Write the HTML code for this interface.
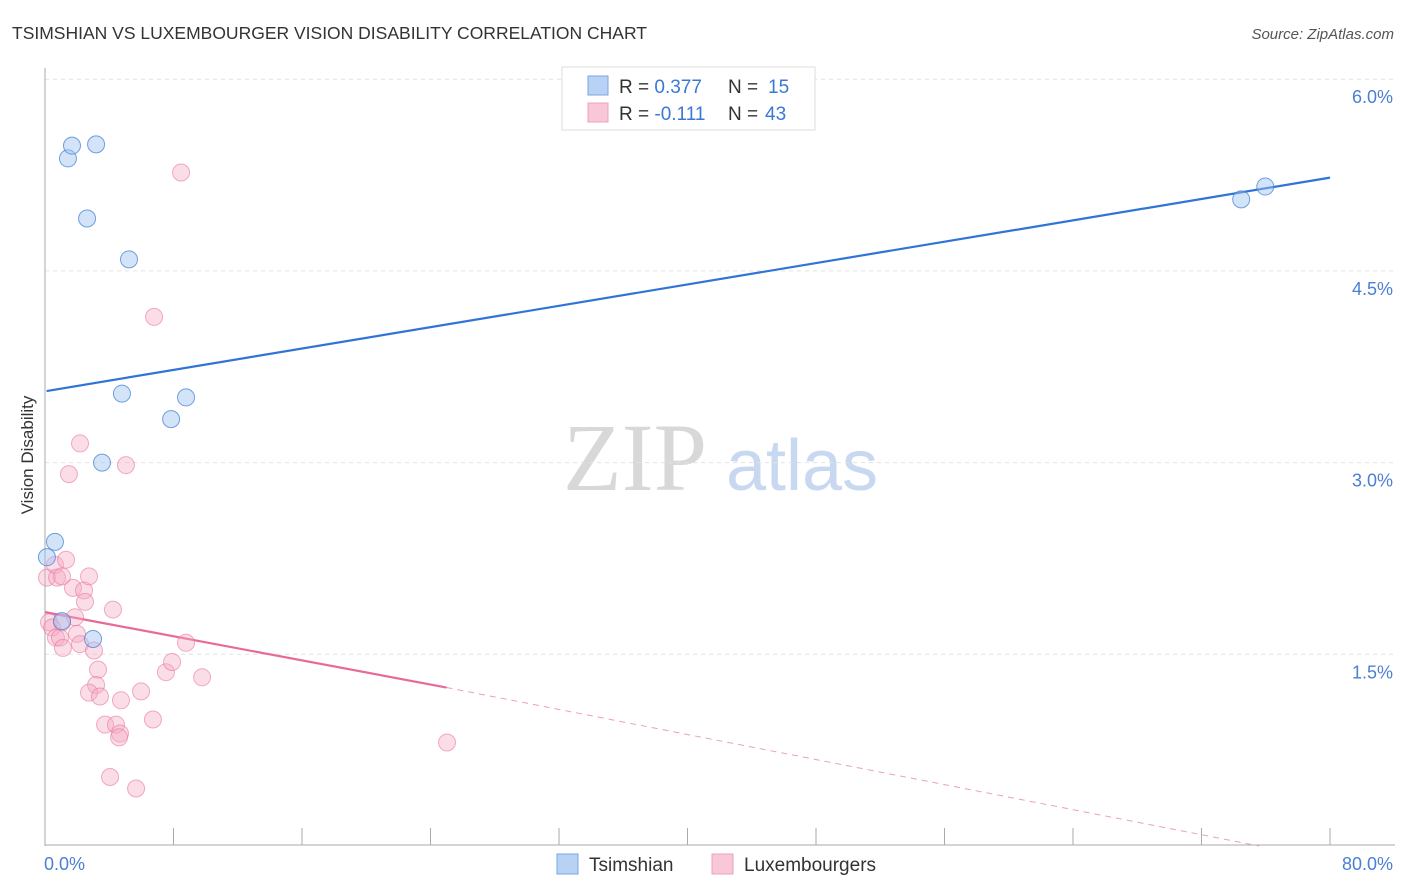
<!DOCTYPE html>
<html><head><meta charset="utf-8"><style>
body{margin:0;background:#fff;font-family:"Liberation Sans",sans-serif}
svg{display:block}
</style></head><body>
<svg id="c" width="1406" height="892" viewBox="0 0 1406 892">
<text x="12" y="39" font-size="17.5" fill="#333">TSIMSHIAN VS LUXEMBOURGER VISION DISABILITY CORRELATION CHART</text>
<text x="1394" y="39" font-size="15" fill="#555" font-style="italic" text-anchor="end">Source: ZipAtlas.com</text>
<text x="33" y="455" font-size="17" fill="#333" text-anchor="middle" transform="rotate(-90 33 455)">Vision Disability</text>
<g>
<text x="635" y="490" font-size="96" font-family="Liberation Serif,serif" fill="#d8d8d8" text-anchor="middle">ZIP</text>
<text x="802" y="490" font-size="72" fill="#c8d8f0" text-anchor="middle">atlas</text>
</g>
<g id="grid"></g><g id="axes"></g><g id="trend"></g><g id="pts"></g>
<g>
<rect x="562" y="67" width="253" height="63" fill="#fff" stroke="#ddd"/>
<rect x="588" y="76" width="20" height="19" fill="#b8d2f5" stroke="#7aa6e0"/>
<rect x="588" y="103" width="20" height="19" fill="#f9c8d8" stroke="#eea0b8"/>
<text x="619" y="93" font-size="19" fill="#333">R = <tspan fill="#3a78d4">0.377</tspan><tspan x="728">N = </tspan><tspan x="768" fill="#3a78d4">15</tspan></text>
<text x="619" y="120" font-size="19" fill="#333">R = <tspan fill="#3a78d4">-0.111</tspan><tspan x="728">N = </tspan><tspan x="765" fill="#3a78d4">43</tspan></text>
</g>
<g>
<rect x="557" y="854" width="21" height="20" fill="#b8d2f5" stroke="#7aa6e0"/>
<text x="589" y="871" font-size="19" fill="#333">Tsimshian</text>
<rect x="712" y="854" width="21" height="20" fill="#f9c8d8" stroke="#eea0b8"/>
<text x="744" y="871" font-size="19" fill="#333">Luxembourgers</text>
</g>
</svg>
<script>
const yTicks=[1.5,3.0,4.5,6.0];
const yTickLabels=["1.5%","3.0%","4.5%","6.0%"];
const xTicks=[0,8,16,24,32,40,48,56,64,72,80];
const xEndLabels=["0.0%","80.0%"];
const tsimX=[0.12,0.62,1.43,1.68,3.18,2.62,5.23,4.79,8.78,7.85,3.55,1.06,2.99,74.47,75.97];
const tsimY=[2.26,2.38,5.38,5.48,5.49,4.91,4.59,3.54,3.51,3.34,3.00,1.76,1.62,5.06,5.16];
const luxX=[0.12,0.62,1.31,0.25,0.44,0.68,0.93,1.12,0.75,1.06,1.74,2.18,1.49,2.43,2.49,2.74,1.87,1.99,2.18,3.05,4.23,3.30,3.18,2.74,3.42,3.74,4.42,4.67,4.61,4.73,5.98,6.72,7.53,7.91,8.78,9.78,5.04,6.79,8.47,4.05,5.67,25.03,1.06];
const luxY=[2.10,2.20,2.24,1.75,1.71,1.63,1.63,1.55,2.10,2.11,2.02,3.15,2.91,2.00,1.91,2.11,1.79,1.66,1.58,1.53,1.85,1.38,1.26,1.20,1.17,0.95,0.95,0.88,0.85,1.14,1.21,0.99,1.36,1.44,1.59,1.32,2.98,4.14,5.27,0.54,0.45,0.81,1.75];
const tsimTrend=[[0.1,3.56],[80,5.23]];
const luxTrendSolid=[[0,1.83],[25,1.24]];
const luxTrendDash=[[25,1.24],[75.6,0]];
const X=v=>45+v*1285/80, Y=v=>846-v*127.8;
const NS="http://www.w3.org/2000/svg";
function mk(p,t,a){const e=document.createElementNS(NS,t);for(const k in a)e.setAttribute(k,a[k]);p.appendChild(e);return e;}
const grid=document.getElementById('grid'),axes=document.getElementById('axes'),trend=document.getElementById('trend'),pts=document.getElementById('pts');
yTicks.forEach((v,i)=>{
 const l=mk(grid,'line',{x1:45,x2:1395,y1:Y(v),y2:Y(v),stroke:'#e2e2e2','stroke-dasharray':'4 4'});
 
 
 const t=mk(grid,'text',{x:1393,y:Y(v)+24,'font-size':18,fill:'#4a7fd4','text-anchor':'end'});
 t.textContent=yTickLabels[i];
 
 
});
const ya=mk(axes,'line',{x1:45,x2:45,y1:68,y2:846,stroke:'#aaa'});


const xa=mk(axes,'line',{x1:45,x2:1395,y1:845,y2:845,stroke:'#aaa'});


xTicks.forEach(v=>{
 const l=mk(axes,'line',{x1:X(v),x2:X(v),y1:828,y2:845,stroke:'#aaa'});
 
 
});
[[X(0)-1,'start'],[X(80)+63,'end']].forEach((p,i)=>{
 const t=mk(axes,'text',{x:p[0],y:870,'font-size':18,fill:'#4a7fd4','text-anchor':p[1]});
 t.textContent=xEndLabels[i];
 
 
});
function seg(s,attrs,name){const l=mk(trend,'line',Object.assign({x1:X(s[0][0]),y1:Y(s[0][1]),x2:X(s[1][0]),y2:Y(s[1][1])},attrs));
 
 }
seg(tsimTrend,{stroke:'#2f74d6','stroke-width':2.2},'tsimshian-trendline');
seg(luxTrendSolid,{stroke:'#e8699a','stroke-width':2.2},'luxembourgers-trendline');
seg(luxTrendDash,{stroke:'#eaa0bb','stroke-width':1,'stroke-dasharray':'6 5'},'luxembourgers-trendline-extension');
luxX.forEach((v,i)=>{
 const c=mk(pts,'circle',{cx:X(v),cy:Y(luxY[i]),r:8.5,fill:'rgba(246,170,195,0.4)',stroke:'rgba(232,120,160,0.6)','stroke-width':1});
 
 
});
tsimX.forEach((v,i)=>{
 const c=mk(pts,'circle',{cx:X(v),cy:Y(tsimY[i]),r:8.5,fill:'rgba(160,195,240,0.45)',stroke:'rgba(70,130,215,0.75)','stroke-width':1});
 
 
});
</script>
</body></html>
